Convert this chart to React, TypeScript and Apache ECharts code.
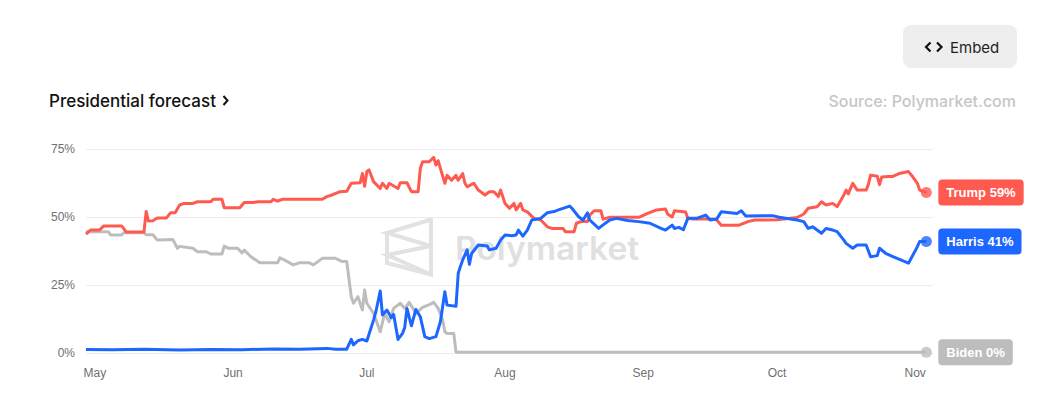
import React, { useEffect, useRef } from "react";
import * as echarts from "echarts";

type Pt = [string, number];

const trump: Pt[] = [
  ["2024-04-29", 43.7], ["2024-04-30", 45.2], ["2024-05-02", 45.2], ["2024-05-03", 46.7], ["2024-05-07", 46.7],
  ["2024-05-08", 44.5], ["2024-05-12", 44.5], ["2024-05-12 12:00", 52.0], ["2024-05-13", 48.5], ["2024-05-14", 48.6],
  ["2024-05-15", 49.6], ["2024-05-17", 49.6], ["2024-05-18", 51.6], ["2024-05-19", 51.6], ["2024-05-20", 54.4],
  ["2024-05-21", 55.0], ["2024-05-23", 55.0], ["2024-05-24", 55.6], ["2024-05-27", 55.6], ["2024-05-27 12:00", 56.5],
  ["2024-05-29 12:00", 56.5], ["2024-05-30", 53.4], ["2024-06-02 12:00", 53.4], ["2024-06-03 12:00", 55.3],
  ["2024-06-05 12:00", 55.3], ["2024-06-06 12:00", 55.6], ["2024-06-09 12:00", 55.6], ["2024-06-10", 56.5],
  ["2024-06-11", 55.8], ["2024-06-12", 56.5], ["2024-06-21", 56.5], ["2024-06-22", 57.5], ["2024-06-23", 58.0],
  ["2024-06-25", 59.3], ["2024-06-26 12:00", 59.5], ["2024-06-27 12:00", 62.4], ["2024-06-29 12:00", 62.6],
  ["2024-06-30", 66.0], ["2024-06-30 12:00", 61.3], ["2024-07-01", 66.7], ["2024-07-01 12:00", 67.3],
  ["2024-07-02 12:00", 63.0], ["2024-07-04", 60.5], ["2024-07-04 12:00", 62.4], ["2024-07-05 12:00", 60.5],
  ["2024-07-06", 62.4], ["2024-07-08", 60.5], ["2024-07-08 12:00", 62.6], ["2024-07-10", 62.6], ["2024-07-11", 59.3],
  ["2024-07-12 12:00", 59.3], ["2024-07-13", 67.9], ["2024-07-13 12:00", 70.3], ["2024-07-15", 70.3],
  ["2024-07-16", 71.9], ["2024-07-16 12:00", 69.1], ["2024-07-17", 70.7], ["2024-07-17 12:00", 67.9],
  ["2024-07-18 12:00", 62.4], ["2024-07-19", 65.3], ["2024-07-20", 63.5], ["2024-07-21", 65.3],
  ["2024-07-21 12:00", 63.5], ["2024-07-22 12:00", 66.0], ["2024-07-23", 62.4], ["2024-07-23 12:00", 61.1],
  ["2024-07-25", 62.4], ["2024-07-26", 59.9], ["2024-07-27 12:00", 58.1], ["2024-07-28 12:00", 59.3],
  ["2024-07-29 12:00", 59.3], ["2024-07-30 12:00", 57.5], ["2024-07-31", 59.9], ["2024-08-01", 55.0],
  ["2024-08-02", 53.2], ["2024-08-03", 55.0], ["2024-08-03 12:00", 52.6], ["2024-08-04 12:00", 55.0],
  ["2024-08-05", 52.6], ["2024-08-06", 51.9], ["2024-08-07 12:00", 49.5], ["2024-08-09", 48.9],
  ["2024-08-10 12:00", 46.4], ["2024-08-11 12:00", 45.8], ["2024-08-14", 45.8], ["2024-08-14 12:00", 44.6],
  ["2024-08-16 12:00", 44.6], ["2024-08-17", 47.7], ["2024-08-18", 48.3], ["2024-08-19 12:00", 48.3],
  ["2024-08-20", 50.7], ["2024-08-21", 52.3], ["2024-08-22 12:00", 52.3], ["2024-08-23", 49.2],
  ["2024-08-24 12:00", 49.9], ["2024-08-31", 49.9], ["2024-09-02", 51.3], ["2024-09-04", 52.6], ["2024-09-06", 52.9],
  ["2024-09-06 12:00", 51.0], ["2024-09-07 12:00", 50.0], ["2024-09-08", 52.3], ["2024-09-10 12:00", 51.8],
  ["2024-09-11", 49.5], ["2024-09-12", 49.3], ["2024-09-16 12:00", 49.3], ["2024-09-17 12:00", 48.9],
  ["2024-09-18 12:00", 47.0], ["2024-09-22 12:00", 47.0], ["2024-09-24 12:00", 48.3], ["2024-09-26", 48.9],
  ["2024-10-01", 49.0], ["2024-10-04", 49.5], ["2024-10-05 12:00", 49.8], ["2024-10-07", 51.1], ["2024-10-08", 53.2],
  ["2024-10-10", 53.8], ["2024-10-11", 55.6], ["2024-10-12", 54.4], ["2024-10-13 12:00", 55.0],
  ["2024-10-14 12:00", 53.8], ["2024-10-16", 58.1], ["2024-10-16 12:00", 59.9], ["2024-10-17", 58.5],
  ["2024-10-18", 62.4], ["2024-10-19", 59.9], ["2024-10-21", 59.9], ["2024-10-21 12:00", 61.9], ["2024-10-22", 65.4],
  ["2024-10-23 12:00", 65.0], ["2024-10-24", 61.9], ["2024-10-24 12:00", 64.7], ["2024-10-26", 64.9],
  ["2024-10-27", 64.9], ["2024-10-28 12:00", 66.0], ["2024-10-30 12:00", 66.7], ["2024-10-31 12:00", 64.7],
  ["2024-11-01 12:00", 62.4], ["2024-11-02", 59.9], ["2024-11-03 12:00", 59.0],
];

const harris: Pt[] = [
  ["2024-04-29", 1.3], ["2024-05-05", 1.2], ["2024-05-12", 1.4], ["2024-05-20", 1.1], ["2024-05-27", 1.3],
  ["2024-06-03", 1.2], ["2024-06-10", 1.5], ["2024-06-16", 1.4], ["2024-06-22", 1.7], ["2024-06-24", 1.4],
  ["2024-06-26 12:00", 1.4], ["2024-06-27 12:00", 5.0], ["2024-06-28", 3.0], ["2024-06-29", 4.5], ["2024-06-30", 5.0],
  ["2024-07-01", 4.4], ["2024-07-02 12:00", 12.1], ["2024-07-03", 15.0], ["2024-07-04", 22.8],
  ["2024-07-04 12:00", 14.0], ["2024-07-05 12:00", 15.8], ["2024-07-06 12:00", 13.0], ["2024-07-07", 14.2],
  ["2024-07-08", 5.0], ["2024-07-09", 7.2], ["2024-07-09 12:00", 9.4], ["2024-07-10", 16.4], ["2024-07-11", 10.0],
  ["2024-07-12", 16.0], ["2024-07-13", 13.3], ["2024-07-14", 6.0], ["2024-07-15", 5.3], ["2024-07-16 12:00", 6.0],
  ["2024-07-17 12:00", 11.5], ["2024-07-18 12:00", 22.5], ["2024-07-19", 17.6], ["2024-07-21", 17.2],
  ["2024-07-21 12:00", 29.3], ["2024-07-22", 31.9], ["2024-07-22 12:00", 34.2], ["2024-07-23 12:00", 37.9],
  ["2024-07-24", 32.6], ["2024-07-24 12:00", 36.6], ["2024-07-26", 39.7], ["2024-07-28", 39.3],
  ["2024-07-28 12:00", 37.9], ["2024-07-30", 38.5], ["2024-07-31", 41.5], ["2024-08-01", 43.4],
  ["2024-08-02 12:00", 43.1], ["2024-08-03 12:00", 43.4], ["2024-08-04", 45.2], ["2024-08-05", 43.0],
  ["2024-08-06", 45.2], ["2024-08-07", 48.9], ["2024-08-09", 49.5], ["2024-08-10 12:00", 51.6], ["2024-08-12", 52.0],
  ["2024-08-13", 52.6], ["2024-08-15 12:00", 54.0], ["2024-08-16", 53.2], ["2024-08-17 12:00", 50.1],
  ["2024-08-18 12:00", 48.9], ["2024-08-19 12:00", 51.5], ["2024-08-20", 48.9], ["2024-08-22", 45.8],
  ["2024-08-23", 47.1], ["2024-08-24 12:00", 48.9], ["2024-08-26", 49.5], ["2024-08-28 12:00", 48.7],
  ["2024-08-31", 48.3], ["2024-09-02 12:00", 47.7], ["2024-09-05", 45.8], ["2024-09-06", 45.2],
  ["2024-09-07 12:00", 47.0], ["2024-09-08", 45.8], ["2024-09-09", 46.2], ["2024-09-10", 45.3], ["2024-09-11", 49.5],
  ["2024-09-13", 49.5], ["2024-09-15", 50.7], ["2024-09-16", 48.9], ["2024-09-17 12:00", 49.3],
  ["2024-09-18 12:00", 51.9], ["2024-09-22", 51.3], ["2024-09-23", 52.3], ["2024-09-24", 50.4], ["2024-09-30", 50.5],
  ["2024-10-01 12:00", 49.9], ["2024-10-05 12:00", 48.9], ["2024-10-07", 48.3], ["2024-10-08", 45.8],
  ["2024-10-09", 46.4], ["2024-10-10", 45.2], ["2024-10-11", 44.0], ["2024-10-12", 45.8], ["2024-10-13 12:00", 45.2],
  ["2024-10-14 12:00", 44.6], ["2024-10-16", 41.5], ["2024-10-16 12:00", 40.3], ["2024-10-18", 38.5],
  ["2024-10-19", 39.7], ["2024-10-21", 39.7], ["2024-10-22", 35.4], ["2024-10-23 12:00", 35.8], ["2024-10-24", 38.5],
  ["2024-10-25 12:00", 36.5], ["2024-10-27", 35.4], ["2024-10-28 12:00", 34.4], ["2024-10-30 12:00", 33.0],
  ["2024-10-31 12:00", 36.0], ["2024-11-01 12:00", 39.1], ["2024-11-02", 41.0], ["2024-11-03 12:00", 41.0],
];

const biden: Pt[] = [
  ["2024-04-29", 44.6], ["2024-05-04", 44.6], ["2024-05-04 12:00", 43.4], ["2024-05-07", 43.4],
  ["2024-05-07 12:00", 44.2], ["2024-05-12", 44.2], ["2024-05-12 12:00", 43.5], ["2024-05-14", 43.5],
  ["2024-05-15", 41.5], ["2024-05-18 12:00", 41.7], ["2024-05-19 12:00", 38.5], ["2024-05-20", 39.2],
  ["2024-05-23", 38.5], ["2024-05-24", 37.2], ["2024-05-26", 37.2], ["2024-05-27", 36.4], ["2024-05-29 12:00", 36.4],
  ["2024-05-30", 39.3], ["2024-05-31", 38.5], ["2024-06-02", 38.5], ["2024-06-03", 36.8], ["2024-06-03 12:00", 37.8],
  ["2024-06-05", 35.4], ["2024-06-07", 33.2], ["2024-06-11", 33.2], ["2024-06-11 12:00", 35.0],
  ["2024-06-12 12:00", 34.2], ["2024-06-14 12:00", 32.4], ["2024-06-16", 33.2], ["2024-06-18", 33.2],
  ["2024-06-19", 32.4], ["2024-06-20", 33.6], ["2024-06-21", 34.8], ["2024-06-24", 34.8], ["2024-06-25 12:00", 33.6],
  ["2024-06-26 12:00", 33.6], ["2024-06-27 12:00", 20.7], ["2024-06-28", 18.3], ["2024-06-29", 20.7],
  ["2024-06-30", 15.8], ["2024-06-30 12:00", 23.2], ["2024-07-01", 18.3], ["2024-07-02 12:00", 14.6],
  ["2024-07-04", 7.8], ["2024-07-05", 14.6], ["2024-07-06", 11.5], ["2024-07-07", 16.4], ["2024-07-08 12:00", 18.3],
  ["2024-07-09 12:00", 16.4], ["2024-07-10 12:00", 18.6], ["2024-07-12", 14.6], ["2024-07-13 12:00", 16.8],
  ["2024-07-15", 17.8], ["2024-07-16", 18.6], ["2024-07-17", 16.4], ["2024-07-18", 12.1], ["2024-07-18 12:00", 7.8],
  ["2024-07-19", 7.2], ["2024-07-20 12:00", 7.2], ["2024-07-21", 0.3], ["2024-11-03 12:00", 0.3],
];

const candidateNames = ["Trump", "Harris", "Biden"];
const candidateData = [trump, harris, biden];
const monthNames = ["Jan", "Feb", "Mar", "Apr", "May", "Jun", "Jul", "Aug", "Sep", "Oct", "Nov", "Dec"];
const yTicks = [0, 25, 50, 75];
const xRange = ["2024-04-29", "2024-11-05"];

const COLORS = ["#FF5A50", "#1D66FF", "#BDBDBD"];
const Z_ORDER = [3, 4, 2];
const AXIS_FONT = "'Liberation Sans', Arial, sans-serif";
const UI_FONT = "Inter, 'Noto Sans', sans-serif";

export default function App() {
  const ref = useRef<HTMLDivElement>(null);

  useEffect(() => {
    if (!ref.current) return;
    const chart = echarts.init(ref.current, null, { renderer: "svg" });

    const series: any[] = [];
    candidateNames.forEach((name, i) => {
      const data = candidateData[i];
      const last = data[data.length - 1];
      const color = COLORS[i];
      series.push({
        type: "line",
        name,
        data,
        showSymbol: false,
        symbol: "none",
        z: Z_ORDER[i],
        lineStyle: { width: 3, color, join: "round" },
        itemStyle: { color },
        emphasis: { disabled: true },
        endLabel: {
          show: true,
          position: "right",
          distance: 12,
          formatter: `${name} ${Math.round(last[1])}%`,
          backgroundColor: color,
          color: "#fff",
          fontFamily: AXIS_FONT,
          fontWeight: "bold",
          fontSize: 13,
          lineHeight: 15,
          padding: [6, 8, 5, 8],
          borderRadius: 4,
        },
      });
      series.push({
        type: "scatter",
        data: [last],
        symbol: "circle",
        symbolSize: 11,
        z: Z_ORDER[i] + 3,
        itemStyle: { color },
        silent: true,
      });
    });

    chart.setOption({
      animation: false,
      grid: { left: 86, right: 121, top: 149, bottom: 43, containLabel: false, outerBoundsMode: "none" },
      xAxis: {
        type: "time",
        min: xRange[0],
        max: xRange[1],
        minInterval: 28 * 86400000,
        axisLine: { show: false },
        axisTick: { show: false },
        splitLine: { show: false },
        axisLabel: {
          color: "#707070",
          fontSize: 12,
          fontFamily: AXIS_FONT,
          margin: 14,
          formatter: (v: number) => monthNames[new Date(v).getMonth()],
        },
      },
      yAxis: {
        type: "value",
        min: yTicks[0],
        max: yTicks[yTicks.length - 1],
        interval: yTicks[1] - yTicks[0],
        axisLine: { show: false },
        axisTick: { show: false },
        splitLine: { lineStyle: { color: "#ececec", width: 1 } },
        axisLabel: {
          color: "#707070",
          fontSize: 12,
          fontFamily: AXIS_FONT,
          margin: 11,
          formatter: "{value}%",
        },
      },
      graphic: [
        { type: "rect", z: 0, shape: { x: 903, y: 25, width: 114, height: 43, r: 8 }, style: { fill: "#eeeeee" } },
        { type: "polyline", z: 1, shape: { points: [[930.5, 42.5], [926, 47], [930.5, 51.5]] }, style: { stroke: "#111", lineWidth: 2.2, fill: null } },
        { type: "polyline", z: 1, shape: { points: [[937, 42.5], [941.5, 47], [937, 51.5]] }, style: { stroke: "#111", lineWidth: 2.2, fill: null } },
        { type: "text", z: 1, x: 950, y: 47, style: { text: "Embed", fontFamily: UI_FONT, fontSize: 15, fill: "#1f1f1f", verticalAlign: "middle" } },
        { type: "text", z: 1, x: 49, y: 101, style: { text: "Presidential forecast", fontFamily: UI_FONT, fontSize: 17, fontWeight: 500, fill: "#111", verticalAlign: "middle" } },
        { type: "polyline", z: 1, shape: { points: [[223.5, 96], [227.5, 100.5], [223.5, 105]] }, style: { stroke: "#111", lineWidth: 2, fill: null } },
        { type: "text", z: 1, x: 1016, y: 101, style: { text: "Source: Polymarket.com", fontFamily: UI_FONT, fontSize: 16, fontWeight: 500, fill: "#c6c6c6", align: "right", verticalAlign: "middle" } },
        {
          type: "polygon", z: 0,
          shape: { points: [[431, 219.5], [387, 233], [431, 246], [387, 255], [431, 274.5]] },
          style: { stroke: "#e2e2e2", lineWidth: 4, fill: null, lineJoin: "miter" },
        },
        { type: "line", z: 0, shape: { x1: 387, y1: 231, x2: 387, y2: 265 }, style: { stroke: "#e2e2e2", lineWidth: 4 } },
        { type: "line", z: 0, shape: { x1: 387, y1: 263, x2: 431, y2: 274.5 }, style: { stroke: "#e2e2e2", lineWidth: 4 } },
        { type: "text", z: 0, x: 455, y: 248, scaleX: 1.05, style: { text: "Polymarket", fontFamily: UI_FONT, fontSize: 32, fontWeight: 600, fill: "#e0e0e0", verticalAlign: "middle" } },
      ],
      series,
    });

    return () => chart.dispose();
  }, []);

  return <div ref={ref} style={{ position: "absolute", left: 0, top: 0, width: 1054, height: 396 }} />;
}
